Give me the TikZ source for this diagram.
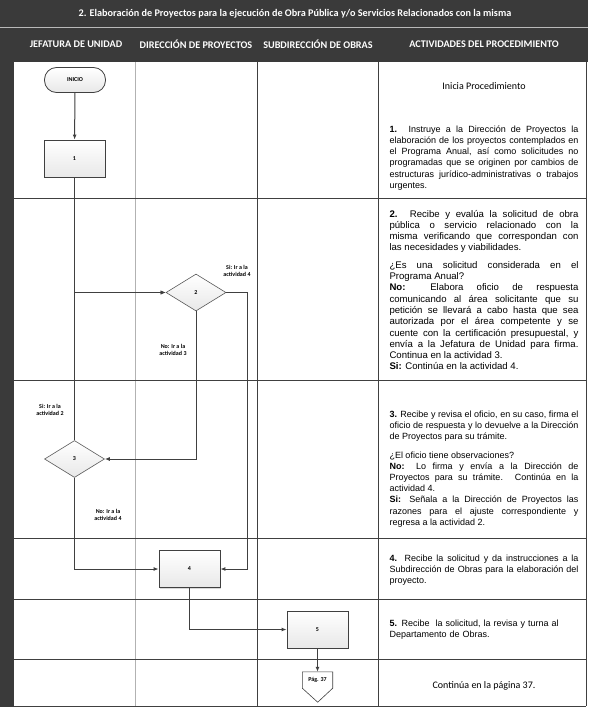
\documentclass[tikz,border=0pt]{standalone}
\usepackage{fontspec}
\setmainfont{Liberation Sans}
\newfontfamily\calibri{Carlito}
\usepackage{tikz}
\usetikzlibrary{shapes.geometric,arrows.meta,shadows}
\definecolor{fondo}{HTML}{3A3A3A}
\definecolor{linea}{HTML}{404040}
\setlength{\parindent}{0pt}
\hyphenpenalty=10000
\exhyphenpenalty=10000
\tolerance=10000

\begin{document}
\begin{tikzpicture}[
    x=1pt, y=-1pt,
    numero/.style={font=\calibri\bfseries\fontsize{6}{7}\selectfont},
    caja/.style={numero, rectangle, draw=linea, line width=0.8pt,
      top color=white, bottom color=gray!18, minimum width=61pt,
      minimum height=37pt, inner sep=0pt,
      drop shadow={shadow xshift=1pt, shadow yshift=-1pt, opacity=.3}},
    decision/.style={numero, diamond, draw=gray!70!black, line width=0.6pt,
      top color=white, bottom color=gray!18, minimum width=60pt,
      minimum height=37pt, inner sep=0pt},
    terminal/.style={numero, rectangle, rounded corners=12pt, draw=linea,
      line width=0.8pt, top color=white, bottom color=gray!18,
      minimum width=61pt, minimum height=25pt, inner sep=0pt},
    flujo/.style={draw=linea, line width=1pt, -{Latex[length=5pt,width=4pt]}},
    etiqueta/.style={font=\calibri\bfseries\fontsize{6}{7.2}\selectfont, align=center},
    texto/.style={text width=189pt, align=justify, inner sep=0pt,
      font=\fontsize{9}{11.2}\selectfont},
    titulo/.style={text=white, font=\calibri\bfseries\fontsize{10.2}{12}\selectfont},
  ]
  \useasboundingbox (0,0) rectangle (590,712);

  % encabezado
  \fill[fondo] (0,0) rectangle (588,62);
  \fill[fondo] (0,62) rectangle (14,707);
  \draw[gray!55] (0,27) -- (588,27);
  \fill[white] (14,62) rectangle (586,706);
  \node[titulo] (titulo) at (295,14) {2. Elaboración de Proyectos para la ejecución de Obra Pública y/o Servicios Relacionados con la misma};
  \node[titulo] (jefatura) at (76,44) {JEFATURA DE UNIDAD};
  \node[titulo] (direccion) at (196,44) {DIRECCIÓN DE PROYECTOS};
  \node[titulo] (subdireccion) at (318,44) {SUBDIRECCIÓN DE OBRAS};
  \node[titulo] (actividades) at (484,44) {ACTIVIDADES DEL PROCEDIMIENTO};

  % rejilla
  \draw[gray!60, line width=0.8pt] (135,62) -- (135,706);
  \foreach \x in {257,378,586}
    \draw[linea, line width=0.8pt] (\x,62) -- (\x,706);
  \foreach \y in {198,380,538,599,659,706}
    \draw[linea, line width=0.8pt] (14,\y) -- (586,\y);

  % diagrama
  \node[terminal] (inicio) at (75,80) {INICIO};
  \node[caja] (act1) at (74.5,158.5) {1};
  \node[decision] (dec2) at (196,292.5) {2};
  \node[decision] (dec3) at (74.5,459) {3};
  \node[caja] (act4) at (189.5,569) {4};
  \node[caja] (act5) at (317.5,629.5) {5};
  \node[numero, minimum width=30pt, minimum height=16pt, inner sep=0pt] (pag) at (317.5,680) {Pág. 37};
  \draw[linea, line width=0.6pt] (pag.north west) -- (pag.north east) -- (pag.south east)
    -- ++(-15,14) -- (pag.south west) -- cycle;

  \draw[flujo] (inicio) -- (act1);
  \draw[flujo] (act1.south) |- (dec2.west);
  \draw[flujo] (dec3.north) |- (dec2.west);
  \draw[flujo] (dec2.south) |- (dec3.east);
  \draw[flujo] (dec2.east) -- ++(21,0) |- (act4.east);
  \draw[flujo] (dec3.south) |- (act4.west);
  \draw[flujo] (act4.south) |- (act5.west);
  \draw[flujo] (act5) -- (pag);

  \node[etiqueta] (si4) at (237,271) {Si: Ir a la\\actividad 4};
  \node[etiqueta] (no3) at (173,350) {No: Ir a la\\actividad 3};
  \node[etiqueta] (si2) at (50,410) {Si: Ir a la\\actividad 2};
  \node[etiqueta] (no4) at (108,515) {No: Ir a la\\actividad 4};

  % actividades
  \node[font=\calibri\fontsize{10}{12}\selectfont] (inicia) at (484,86) {Inicia Procedimiento};
  \node[texto] (txt1) at (484,158) {\textbf{1.} Instruye a la Dirección de Proyectos la\linebreak
    elaboración de los proyectos contemplados en\linebreak
    el Programa Anual, así como solicitudes no\linebreak
    programadas que se originen por cambios de\linebreak
    estructuras jurídico-administrativas o trabajos\linebreak
    urgentes.};
  \node[texto, font=\fontsize{9.6}{11.3}\selectfont] (txt2) at (484,290) {\textbf{2.} Recibe y evalúa la solicitud de obra\linebreak
    pública o servicio relacionado con la\linebreak
    misma verificando que correspondan con\linebreak
    las necesidades y viabilidades.\par\vspace{6pt}
    ¿Es una solicitud considerada en el\linebreak
    Programa Anual?\par
    \textbf{No:} Elabora oficio de respuesta\linebreak
    comunicando al área solicitante que su\linebreak
    petición se llevará a cabo hasta que sea\linebreak
    autorizada por el área competente y se\linebreak
    cuente con la certificación presupuestal, y\linebreak
    envía a la Jefatura de Unidad para firma.\linebreak
    Continua en la actividad 3.\par
    \textbf{Si:} Continúa en la actividad 4.};
  \node[texto] (txt3) at (484,469) {\textbf{3.} Recibe y revisa el oficio, en su caso, firma el\linebreak
    oficio de respuesta y lo devuelve a la Dirección\linebreak
    de Proyectos para su trámite.\par\vspace{7pt}
    ¿El oficio tiene observaciones?\par
    \textbf{No:} Lo firma y envía a la Dirección de\linebreak
    Proyectos para su trámite. Continúa en la\linebreak
    actividad 4.\par
    \textbf{Si:} Señala a la Dirección de Proyectos las\linebreak
    razones para el ajuste correspondiente y\linebreak
    regresa a la actividad 2.};
  \node[texto] (txt4) at (484,570) {\textbf{4.} Recibe la solicitud y da instrucciones a la\linebreak
    Subdirección de Obras para la elaboración del\linebreak
    proyecto.};
  \node[texto, align=left] (txt5) at (484,630) {\textbf{5.} Recibe\ \ la solicitud, la revisa y turna al\\Departamento de Obras.};
  \node[font=\calibri\fontsize{10}{12}\selectfont] (sigue) at (484,686) {Continúa en la página 37.};
\end{tikzpicture}
\end{document}
